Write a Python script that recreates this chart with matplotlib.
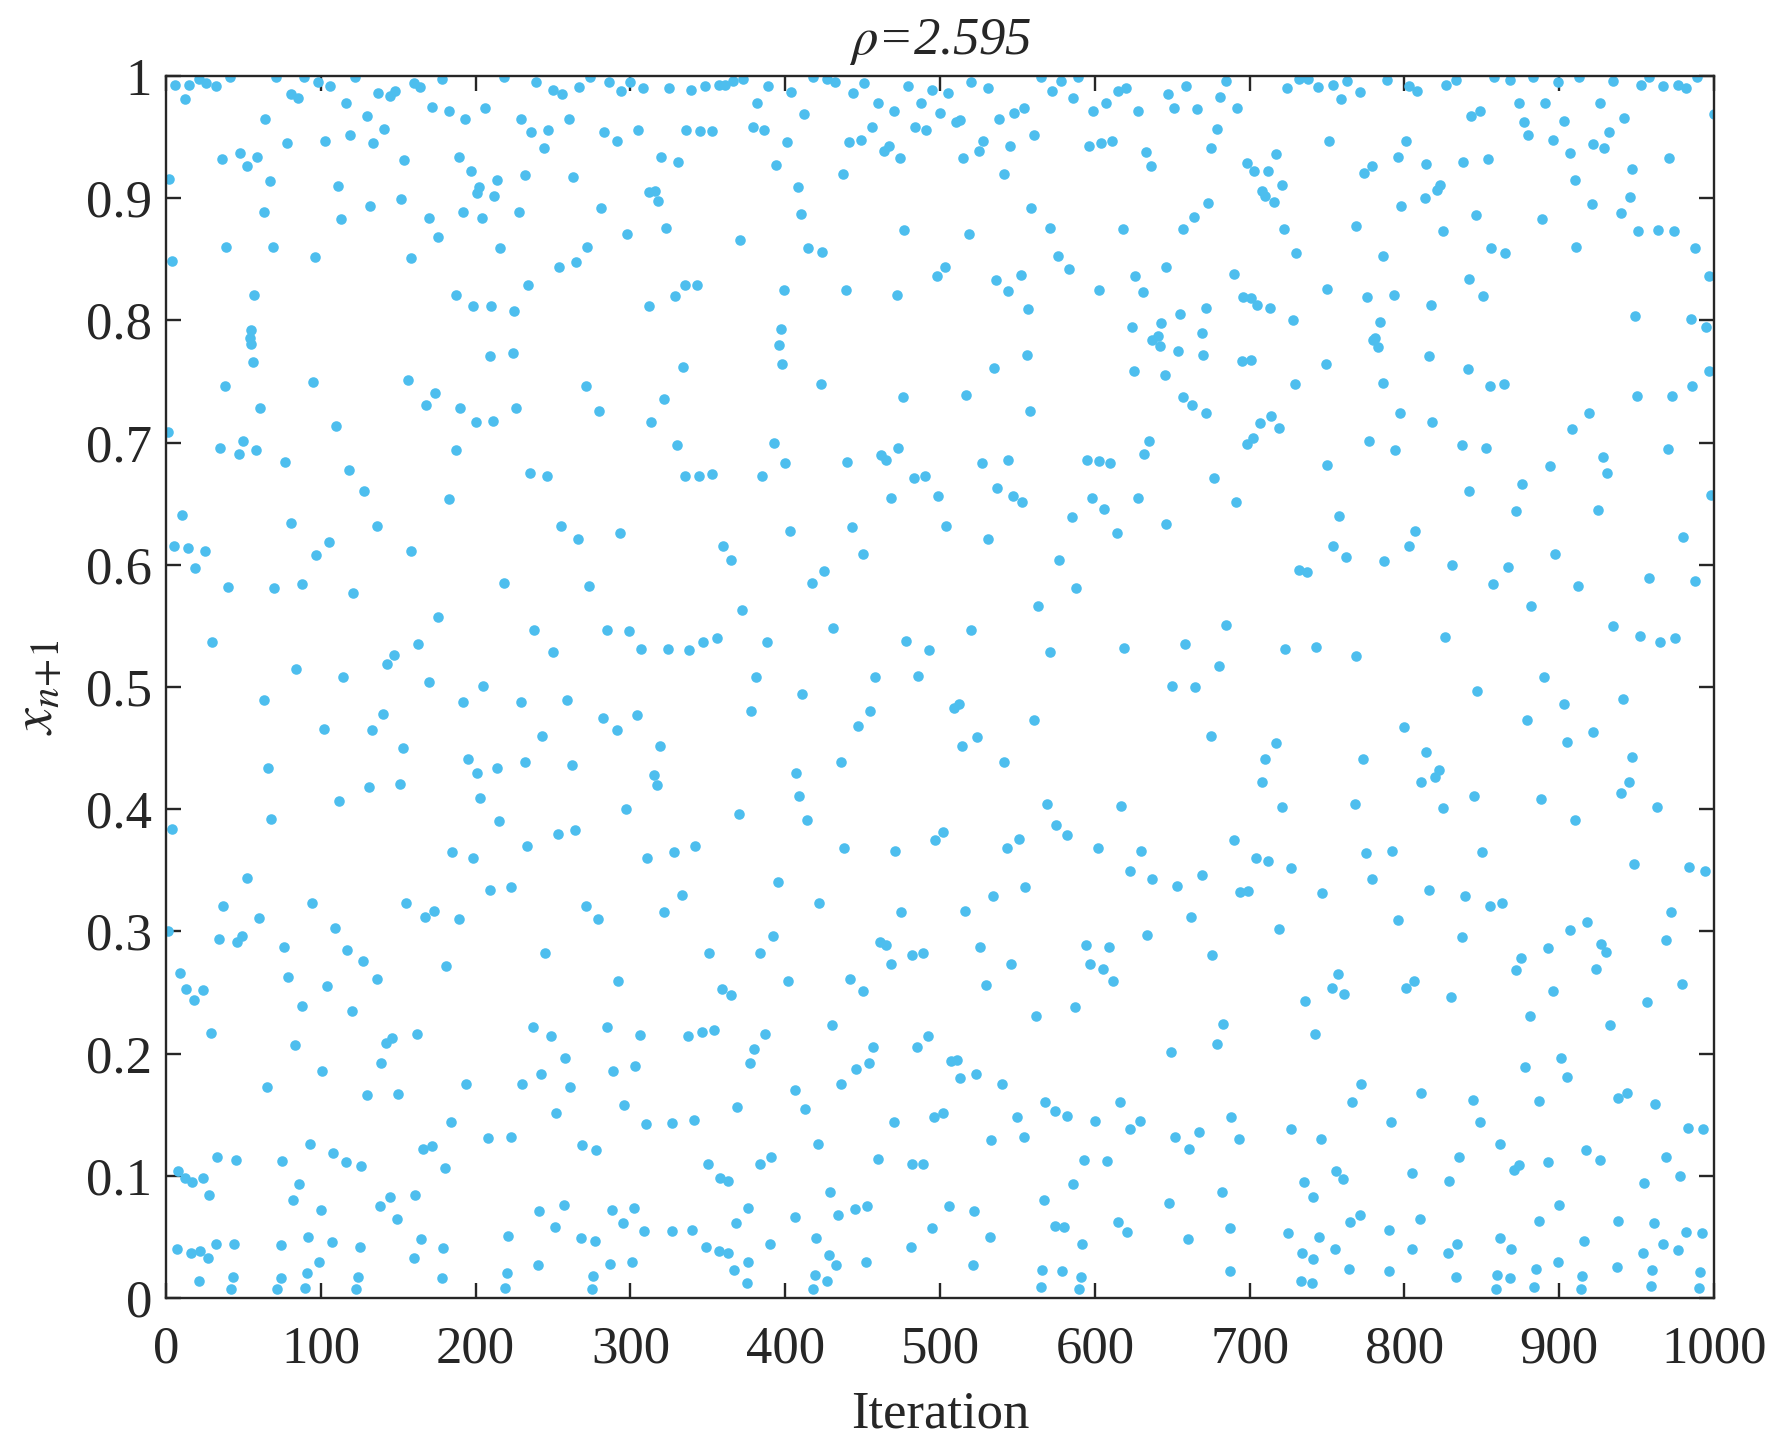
"""
Scatter of a chaotic map orbit: x_{n+1} against iteration, rho = 2.595.
Values read off the reference chart.
"""
import matplotlib
matplotlib.use('Agg')
import matplotlib.pyplot as plt
from matplotlib.ticker import FixedLocator, FuncFormatter

OUTPUT_PNG = "out.png"

RHO = 2.595
DOT_COLOR = "#4DBEEE"
INK = "#262626"

# iteration index of each point (by column strip)
iteration = [
    # 0 - 80
    6, 15, 21, 26, 32, 41, 71, 12, 64, 78, 36, 48, 52, 59, 2, 67, 63, 39, 69, 4,
    57, 55, 54, 55, 56, 38, 61, 1, 35, 50, 47, 58, 77, 10, 5, 14, 25, 19, 40, 70,
    30, 63, 66, 4, 68, 52, 37, 1, 60, 34, 46, 49, 76, 9, 13, 18, 24, 79, 29, 65,
    8, 12, 17, 24, 33, 45, 75, 28, 7, 16, 22, 27, 32, 44, 74, 21, 43, 42, 74, 72,
    # 80 - 164
    81, 85, 89, 98, 106, 122, 116, 130, 137, 145, 148, 160, 164, 103, 119, 134, 141, 154, 111, 132,
    152, 113, 96, 158, 95, 156, 110, 118, 128, 81, 105, 136, 97, 158, 88, 121, 84, 114, 143, 147,
    163, 102, 133, 140, 153, 112, 131, 151, 94, 155, 109, 117, 127, 104, 136, 88, 120, 83, 101, 142,
    146, 162, 139, 130, 150, 93, 108, 116, 126, 86, 82, 100, 138, 145, 149, 161, 92, 107, 125, 160,
    91, 99, 124, 90, 123,
    # 164 - 248
    178, 218, 239, 172, 183, 193, 206, 229, 236, 247, 244, 189, 197, 202, 201, 214, 212, 232, 170, 192,
    204, 228, 176, 216, 187, 234, 198, 210, 225, 209, 224, 174, 168, 190, 200, 211, 226, 187, 235, 246,
    183, 218, 176, 238, 170, 192, 205, 229, 243, 195, 201, 214, 232, 203, 215, 185, 198, 233, 209, 223,
    167, 173, 189, 181, 245, 237, 194, 230, 242, 184, 208, 223, 166, 172, 180, 241, 165, 179, 221, 178,
    220, 219, 240,
    # 248 - 332
    250, 256, 267, 274, 286, 294, 300, 308, 325, 260, 283, 291, 305, 320, 331, 263, 281, 298, 312, 316,
    318, 323, 272, 254, 265, 312, 329, 271, 280, 313, 322, 330, 255, 266, 293, 273, 285, 299, 250, 307,
    324, 259, 282, 291, 304, 319, 262, 315, 317, 297, 253, 264, 311, 328, 271, 279, 322, 292, 249, 285,
    306, 258, 261, 289, 303, 252, 296, 310, 327, 269, 278, 257, 251, 288, 295, 302, 309, 327, 268, 277,
    287, 301, 276, 275,
    # 332 - 416
    339, 348, 357, 361, 366, 373, 382, 389, 404, 412, 336, 345, 353, 379, 386, 401, 394, 408, 410, 371,
    415, 335, 343, 399, 397, 396, 398, 334, 393, 400, 335, 344, 353, 385, 403, 360, 365, 372, 338, 347,
    356, 388, 381, 411, 378, 407, 409, 414, 370, 342, 333, 395, 392, 351, 384, 402, 359, 365, 337, 346,
    354, 387, 380, 377, 406, 413, 369, 341, 350, 358, 363, 384, 391, 376, 340, 368, 406, 349, 357, 363,
    390, 367, 376, 375,
    # 416 - 500
    418, 427, 432, 444, 451, 460, 470, 479, 488, 495, 456, 441, 449, 464, 467, 474, 484, 491, 437, 477,
    424, 439, 472, 498, 423, 476, 440, 462, 465, 473, 483, 490, 499, 468, 443, 450, 417, 425, 431, 478,
    493, 458, 486, 455, 447, 436, 438, 471, 497, 422, 475, 461, 465, 468, 482, 489, 442, 450, 430, 457,
    485, 492, 446, 454, 436, 470, 496, 421, 460, 482, 489, 429, 434, 445, 453, 420, 481, 495, 428, 433,
    452, 419, 427, 418,
    # 500 - 584
    505, 500, 520, 531, 565, 572, 578, 510, 513, 538, 548, 554, 561, 528, 525, 545, 515, 541, 559, 571,
    519, 576, 583, 503, 536, 544, 552, 557, 556, 535, 517, 558, 527, 544, 537, 547, 553, 504, 531, 577,
    563, 520, 571, 509, 512, 514, 524, 561, 541, 569, 575, 582, 502, 543, 551, 555, 534, 516, 526, 546,
    530, 562, 507, 511, 513, 523, 540, 568, 574, 582, 502, 550, 533, 554, 506, 522, 532, 567, 574, 580,
    521, 566, 579, 565,
    # 584 - 668
    589, 586, 599, 607, 615, 620, 628, 647, 651, 659, 666, 596, 604, 611, 633, 636, 618, 657, 664, 603,
    626, 631, 646, 624, 643, 655, 637, 641, 642, 654, 625, 645, 657, 663, 595, 603, 610, 632, 635, 598,
    606, 614, 628, 646, 585, 588, 619, 658, 650, 665, 617, 602, 630, 623, 637, 653, 662, 634, 594, 609,
    597, 605, 612, 587, 649, 616, 600, 623, 629, 652, 661, 667, 593, 608, 586, 648, 615, 621, 592, 660,
    591, 590,
    # 668 - 752
    685, 724, 732, 738, 744, 681, 692, 679, 675, 698, 703, 712, 717, 721, 751, 708, 710, 716, 673, 722,
    730, 690, 750, 696, 701, 705, 713, 672, 728, 669, 670, 695, 701, 749, 729, 672, 707, 714, 719, 698,
    702, 750, 677, 691, 732, 737, 685, 723, 743, 680, 675, 717, 710, 708, 721, 690, 704, 712, 727, 669,
    694, 699, 747, 719, 676, 736, 683, 679, 742, 688, 693, 727, 746, 682, 735, 741, 687, 725, 745, 734,
    741, 687, 733, 740,
    # 752 - 836
    754, 763, 771, 789, 803, 808, 827, 833, 759, 801, 796, 814, 774, 779, 813, 821, 823, 798, 769, 825,
    786, 776, 793, 817, 784, 781, 780, 783, 816, 786, 797, 818, 777, 794, 758, 754, 762, 787, 807, 803,
    831, 826, 769, 800, 814, 773, 811, 820, 822, 768, 825, 775, 792, 779, 816, 796, 757, 753, 761, 801,
    806, 830, 772, 811, 766, 791, 835, 756, 760, 805, 829, 765, 771, 790, 810, 755, 764, 790, 805, 828,
    834, 833,
    # 836 - 920
    858, 868, 883, 899, 913, 843, 849, 874, 891, 903, 877, 880, 896, 838, 854, 907, 910, 846, 889, 856,
    865, 911, 842, 851, 841, 855, 864, 919, 908, 837, 853, 894, 842, 876, 872, 897, 867, 857, 912, 882,
    890, 847, 903, 879, 905, 845, 888, 910, 850, 839, 855, 863, 837, 918, 907, 893, 875, 872, 896, 881,
    878, 901, 905, 844, 887, 849, 862, 871, 874, 893, 917, 900, 887, 862, 869, 916, 860, 868, 885, 899,
    915, 859, 884, 914,
    # 920 - 1000
    935, 953, 958, 967, 977, 982, 989, 1000, 926, 942, 932, 922, 929, 947, 971, 921, 946, 940, 951, 964,
    974, 988, 997, 949, 985, 995, 997, 950, 973, 986, 970, 928, 931, 925, 998, 980, 958, 988, 935, 952,
    965, 975, 941, 922, 947, 945, 940, 963, 948, 984, 994, 972, 969, 927, 930, 924, 979, 957, 933, 938,
    944, 962, 983, 993, 926, 969, 955, 978, 938, 961, 967, 982, 992, 954, 977, 937, 960, 991, 959, 990,
]

# x_{n+1} value of each point, same order as above
x_next = [
    # 0 - 80
    .993, .993, .998, .994, .992, .999, .999, .981, .965, .945, .932, .937, .926, .934, .916, .914, .889, .860, .860, .849,
    .821, .792, .786, .781, .766, .746, .728, .709, .696, .701, .691, .694, .684, .641, .615, .614, .611, .597, .582, .581,
    .537, .489, .434, .384, .392, .344, .321, .300, .311, .294, .291, .296, .287, .266, .253, .244, .252, .263, .217, .173,
    .104, .098, .095, .098, .115, .113, .112, .084, .040, .037, .038, .033, .044, .044, .043, .014, .017, .007, .016, .007,
    # 80 - 164
    .985, .982, .999, .995, .992, .999, .978, .967, .986, .984, .988, .994, .991, .947, .952, .945, .957, .931, .910, .894,
    .899, .883, .852, .851, .750, .751, .714, .678, .660, .634, .619, .632, .608, .611, .584, .577, .515, .508, .519, .526,
    .535, .466, .465, .478, .450, .407, .418, .421, .323, .323, .303, .285, .276, .255, .261, .239, .235, .207, .186, .209,
    .213, .216, .192, .166, .167, .126, .119, .111, .108, .093, .080, .072, .075, .083, .065, .084, .050, .046, .042, .033,
    .020, .029, .017, .008, .007,
    # 164 - 248
    .998, .999, .995, .975, .971, .965, .974, .965, .954, .956, .941, .934, .922, .909, .904, .915, .902, .919, .884, .889,
    .884, .889, .868, .859, .821, .829, .812, .812, .808, .771, .773, .741, .731, .728, .717, .718, .728, .694, .675, .673,
    .654, .585, .557, .547, .504, .488, .501, .488, .460, .441, .430, .434, .439, .409, .390, .365, .360, .370, .334, .336,
    .312, .317, .310, .272, .282, .222, .175, .175, .183, .144, .131, .132, .122, .124, .106, .071, .048, .041, .051, .016,
    .020, .008, .027,
    # 248 - 332
    .989, .985, .991, .999, .995, .988, .995, .990, .990, .965, .954, .947, .956, .934, .930, .917, .892, .871, .905, .906,
    .898, .876, .860, .844, .848, .812, .820, .746, .726, .717, .736, .698, .632, .621, .626, .583, .547, .546, .529, .531,
    .531, .489, .475, .465, .477, .452, .436, .428, .420, .400, .380, .383, .360, .365, .321, .310, .316, .259, .214, .222,
    .215, .196, .173, .186, .190, .151, .158, .142, .143, .125, .121, .076, .058, .072, .061, .074, .055, .055, .049, .047,
    .028, .029, .018, .007,
    # 332 - 416
    .989, .992, .993, .993, .996, .998, .978, .992, .987, .969, .956, .955, .955, .958, .956, .946, .927, .909, .887, .866,
    .859, .829, .829, .825, .793, .780, .764, .762, .700, .683, .673, .673, .674, .673, .628, .615, .604, .563, .530, .537,
    .540, .537, .508, .494, .480, .430, .411, .391, .396, .370, .330, .340, .296, .282, .282, .259, .253, .248, .214, .218,
    .219, .216, .204, .192, .170, .155, .156, .146, .110, .098, .096, .110, .115, .074, .056, .061, .066, .042, .038, .037,
    .044, .023, .029, .012,
    # 416 - 500
    .999, .998, .995, .986, .994, .978, .971, .992, .978, .989, .958, .946, .948, .939, .943, .933, .958, .956, .920, .874,
    .856, .825, .821, .836, .748, .737, .684, .690, .686, .696, .671, .673, .656, .655, .631, .609, .585, .595, .548, .538,
    .530, .508, .509, .480, .468, .439, .368, .366, .375, .323, .316, .291, .289, .273, .281, .282, .261, .251, .223, .205,
    .205, .214, .187, .192, .175, .144, .148, .126, .114, .110, .110, .087, .068, .073, .075, .049, .042, .057, .035, .027,
    .029, .019, .014, .007,
    # 500 - 584
    .986, .970, .995, .990, .999, .988, .996, .962, .964, .965, .970, .974, .952, .947, .939, .943, .933, .920, .892, .876,
    .871, .853, .842, .844, .833, .824, .837, .809, .772, .761, .739, .726, .683, .686, .663, .656, .651, .632, .621, .604,
    .566, .547, .529, .483, .486, .452, .459, .473, .439, .404, .387, .379, .381, .368, .376, .336, .329, .317, .287, .273,
    .256, .231, .194, .195, .180, .183, .175, .160, .153, .149, .151, .148, .129, .132, .075, .071, .050, .080, .059, .058,
    .027, .023, .022, .009,
    # 584 - 668
    .999, .982, .971, .978, .988, .990, .971, .985, .974, .992, .973, .943, .945, .947, .938, .926, .875, .875, .885, .825,
    .836, .823, .844, .795, .798, .805, .784, .787, .779, .775, .759, .755, .737, .731, .686, .685, .683, .691, .701, .655,
    .646, .626, .655, .633, .639, .581, .532, .535, .501, .500, .403, .368, .366, .349, .343, .337, .312, .297, .289, .287,
    .273, .269, .259, .238, .201, .160, .145, .138, .145, .132, .122, .136, .113, .112, .093, .078, .062, .054, .044, .048,
    .017, .007,
    # 668 - 752
    .996, .990, .998, .998, .991, .983, .974, .957, .941, .929, .922, .922, .936, .911, .947, .906, .902, .897, .896, .875,
    .855, .838, .826, .819, .818, .813, .810, .810, .800, .790, .772, .767, .768, .764, .748, .724, .716, .722, .712, .699,
    .704, .682, .671, .651, .596, .594, .551, .531, .533, .517, .460, .454, .441, .422, .402, .375, .360, .358, .352, .346,
    .332, .333, .331, .302, .281, .243, .224, .208, .216, .148, .130, .138, .130, .087, .095, .083, .057, .053, .050, .037,
    .032, .022, .014, .012,
    # 752 - 836
    .993, .996, .987, .997, .992, .988, .993, .997, .981, .947, .934, .928, .921, .926, .900, .907, .911, .894, .877, .873,
    .853, .819, .821, .813, .799, .786, .784, .778, .771, .749, .724, .717, .701, .694, .640, .615, .606, .603, .628, .615,
    .600, .541, .525, .467, .447, .441, .422, .426, .432, .404, .401, .364, .366, .343, .334, .309, .265, .254, .249, .254,
    .259, .246, .175, .168, .160, .144, .115, .104, .097, .102, .096, .062, .068, .056, .065, .040, .024, .022, .040, .037,
    .044, .017,
    # 836 - 920
    .999, .997, .999, .995, .999, .967, .971, .978, .978, .963, .962, .952, .948, .930, .932, .937, .915, .886, .883, .859,
    .855, .860, .834, .820, .760, .746, .748, .724, .711, .698, .696, .681, .660, .666, .644, .609, .598, .584, .583, .566,
    .508, .497, .486, .473, .455, .411, .408, .391, .365, .329, .321, .323, .295, .308, .301, .286, .278, .268, .251, .231,
    .189, .196, .181, .162, .161, .144, .126, .105, .109, .111, .121, .076, .063, .049, .040, .047, .019, .016, .024, .029,
    .018, .007, .009, .007,
    # 920 - 1000
    .996, .993, .999, .992, .993, .990, .999, .969, .978, .966, .954, .944, .941, .924, .933, .895, .901, .888, .873, .874,
    .873, .859, .836, .804, .801, .795, .759, .738, .738, .746, .695, .688, .675, .645, .657, .623, .589, .587, .550, .542,
    .537, .540, .490, .463, .443, .422, .413, .402, .355, .353, .349, .316, .293, .290, .283, .269, .257, .242, .223, .164,
    .168, .159, .139, .138, .113, .115, .094, .100, .063, .061, .044, .054, .053, .037, .039, .025, .023, .021, .010, .008,
]

x_ticks = list(range(0, 1001, 100))
y_ticks = [i / 10 for i in range(11)]


def main():
    assert len(iteration) == len(x_next)

    plt.rcParams['font.family'] = ['Liberation Serif', 'DejaVu Serif']
    plt.rcParams['mathtext.fontset'] = 'stix'
    plt.rcParams['font.size'] = 19

    fig = plt.figure(figsize=(8.86, 7.23), dpi=200)
    fig.patch.set_facecolor("white")
    ax = fig.add_axes([0.0937, 0.1024, 0.8736, 0.845])

    ax.plot(iteration, x_next, "o", color=DOT_COLOR, markersize=3.8,
            markeredgewidth=0, linestyle="none")

    ax.set_xlim(0, 1000)
    ax.set_ylim(0, 1)
    ax.xaxis.set_major_locator(FixedLocator(x_ticks))
    ax.yaxis.set_major_locator(FixedLocator(y_ticks))
    ax.yaxis.set_major_formatter(FuncFormatter(lambda v, _: f"{v:g}"))

    for side in ax.spines.values():
        side.set_linewidth(0.85)
        side.set_color(INK)
    ax.tick_params(direction="in", length=5.4, width=0.85, colors=INK,
                   top=True, right=True, labelsize=19)
    ax.tick_params(axis="x", pad=10)
    ax.tick_params(axis="y", pad=5)

    ax.set_xlabel("Iteration", fontsize=19, color=INK, labelpad=6)
    ax.set_ylabel(r"$x_{n\!+\!1}$", fontsize=21, color=INK, labelpad=8)
    ax.set_title(rf"$\rho$={RHO}", fontsize=19, fontstyle="italic",
                 color=INK, pad=8)

    fig.savefig(OUTPUT_PNG, dpi=200)
    print(f"Chart saved to: {OUTPUT_PNG}")


if __name__ == "__main__":
    main()
